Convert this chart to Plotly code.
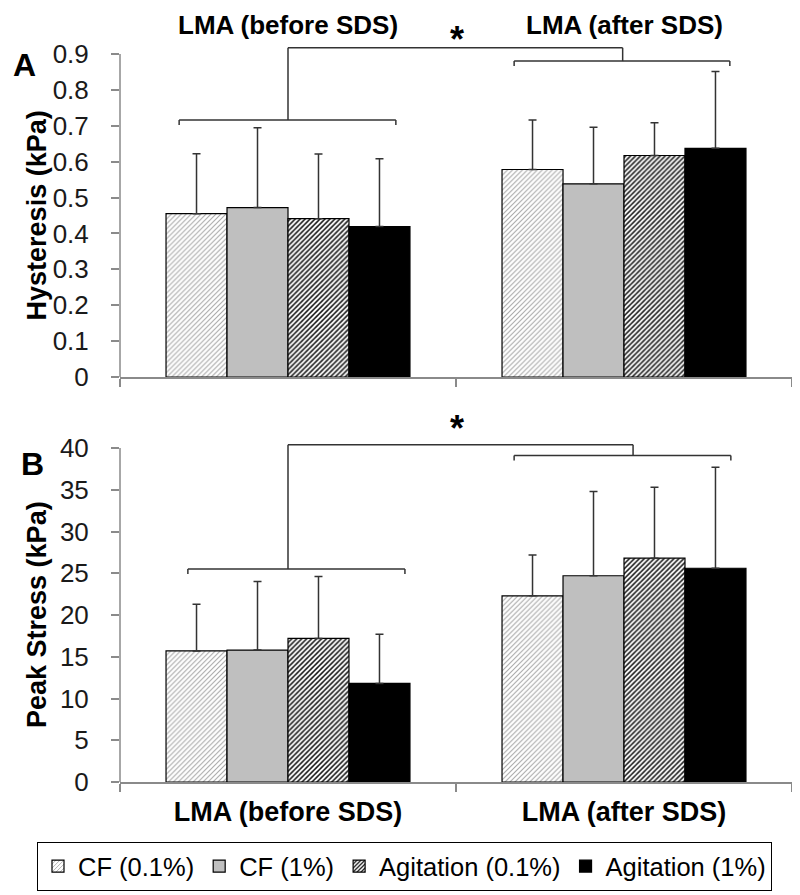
import plotly.graph_objects as go

# ---------------- data ----------------
categories = ["LMA (before SDS)", "LMA (after SDS)"]
series_names = ["CF (0.1%)", "CF (1%)", "Agitation (0.1%)", "Agitation (1%)"]

# Panel A: Hysteresis (kPa)
hyst_mean = [[0.455, 0.578], [0.472, 0.538], [0.441, 0.617], [0.419, 0.637]]
hyst_err = [[0.167, 0.138], [0.222, 0.158], [0.180, 0.091], [0.189, 0.214]]

# Panel B: Peak Stress (kPa)
peak_mean = [[15.7, 22.3], [15.8, 24.7], [17.2, 26.8], [11.8, 25.6]]
peak_err = [[5.6, 4.9], [8.2, 10.1], [7.4, 8.5], [5.9, 12.1]]

hyst_ticks = [0, 0.1, 0.2, 0.3, 0.4, 0.5, 0.6, 0.7, 0.8, 0.9]
peak_ticks = [0, 5, 10, 15, 20, 25, 30, 35, 40]

# significance brackets: (x_left, x_right, y_level, x_stem) per group, and top connector level
hyst_brackets = [(-0.324, 0.321, 0.716, 0.0), (0.673, 1.315, 0.880, 0.996)]
hyst_top = 0.917
peak_brackets = [(-0.298, 0.348, 25.5, 0.0), (0.673, 1.318, 39.1, 1.027)]
peak_top = 40.4

# ---------------- styles ----------------
FONT = "Arial, Liberation Sans, sans-serif"
AXIS_GRAY = "#8a8a8a"
W, H = 792, 887          # page has an 8px body margin
OFF = 8


def px(x):
    return (x - OFF) / W


def py(y):
    return 1 - (y - OFF) / H


styles = [
    dict(color="white", pattern=dict(shape="/", fgcolor="#a8a8a8", bgcolor="white", size=3.5, solidity=0.3)),
    dict(color="#bfbfbf"),
    dict(color="white", pattern=dict(shape="/", fgcolor="#1a1a1a", bgcolor="white", size=3.5, solidity=0.45)),
    dict(color="black"),
]

fig = go.Figure()

for i, name in enumerate(series_names):
    for (means, errs, xa, ya, show) in [
        (hyst_mean, hyst_err, "x", "y", True),
        (peak_mean, peak_err, "x2", "y2", False),
    ]:
        mk = dict(styles[i])
        mk["line"] = dict(color="black", width=1.2)
        fig.add_trace(go.Bar(
            x=categories, y=means[i], name=name, legendgroup=name, showlegend=show,
            xaxis=xa, yaxis=ya, marker=mk,
            error_y=dict(type="data", symmetric=False, array=errs[i],
                         arrayminus=[0] * len(errs[i]), color="#333333",
                         thickness=1.5, width=4),
        ))

A_dom = [py(377), py(18)]
B_dom = [py(782), py(414.6)]
xdom = [px(120), px(792)]

common_x = dict(type="category", range=[-0.5, 1.5], showline=True, linecolor=AXIS_GRAY,
                linewidth=1.5, ticks="outside", tickson="boundaries", ticklen=8,
                tickcolor=AXIS_GRAY, tickwidth=1.5, showgrid=False, zeroline=False)
common_y = dict(showline=False, ticks="outside", ticklen=8, tickcolor=AXIS_GRAY,
                tickwidth=1.5, showgrid=False, zeroline=False, ticklabelstandoff=17,
                tickfont=dict(family=FONT, size=26, color="#1a1a1a"))

fig.update_layout(
    width=W, height=H, template="none",
    paper_bgcolor="white", plot_bgcolor="rgba(0,0,0,0)",
    margin=dict(l=0, r=0, t=0, b=0),
    barmode="group", bargap=0.274, bargroupgap=0,
    xaxis=dict(common_x, domain=xdom, anchor="y", showticklabels=False),
    yaxis=dict(common_y, domain=A_dom, anchor="x", range=[0, 1.0],
               tickvals=hyst_ticks, ticktext=[f"{v:g}" for v in hyst_ticks]),
    xaxis2=dict(common_x, domain=xdom, anchor="y2", showticklabels=True,
                ticklabelstandoff=5,
                tickfont=dict(family=FONT, size=27, color="black", weight="bold")),
    yaxis2=dict(common_y, domain=B_dom, anchor="x2", range=[0, 44],
                tickvals=peak_ticks),
    showlegend=True,
    legend=dict(orientation="h", x=px(37), y=py(842), xanchor="left", yanchor="top",
                bordercolor="black", borderwidth=1, bgcolor="white",
                font=dict(family=FONT, size=25.5, color="black"), itemwidth=30,
                traceorder="normal"),
)

shapes = []
# y-axis lines (only up to the last tick)
shapes.append(dict(type="line", xref="x domain", yref="y", x0=0, x1=0, y0=0, y1=hyst_ticks[-1],
                   line=dict(color=AXIS_GRAY, width=1.5)))
shapes.append(dict(type="line", xref="x2 domain", yref="y2", x0=0, x1=0, y0=0, y1=peak_ticks[-1],
                   line=dict(color=AXIS_GRAY, width=1.5)))


def add_brackets(xr, yr, brackets, top, tip):
    ln = dict(color="#333333", width=1.5)
    for (xl, xrgt, lvl, stem) in brackets:
        shapes.append(dict(type="line", xref=xr, yref=yr, x0=xl, x1=xrgt, y0=lvl, y1=lvl, line=ln))
        shapes.append(dict(type="line", xref=xr, yref=yr, x0=xl, x1=xl, y0=lvl, y1=lvl - tip, line=ln))
        shapes.append(dict(type="line", xref=xr, yref=yr, x0=xrgt, x1=xrgt, y0=lvl, y1=lvl - tip, line=ln))
        shapes.append(dict(type="line", xref=xr, yref=yr, x0=stem, x1=stem, y0=lvl, y1=top, line=ln))
    shapes.append(dict(type="line", xref=xr, yref=yr, x0=brackets[0][3], x1=brackets[1][3],
                       y0=top, y1=top, line=ln))


add_brackets("x", "y", hyst_brackets, hyst_top, 0.014)
add_brackets("x2", "y2", peak_brackets, peak_top, 0.6)
fig.update_layout(shapes=shapes)

ann = []
# top category labels for panel A
for i, c in enumerate(categories):
    ann.append(dict(x=i, xref="x", y=py(8), yref="paper", text=c, showarrow=False,
                    font=dict(family=FONT, size=26, color="black", weight="bold"),
                    xanchor="center", yanchor="top"))
# asterisks
ann.append(dict(x=0.503, xref="x", y=0.941, yref="y", text="*", showarrow=False,
                font=dict(family=FONT, size=36, color="black", weight="bold"),
                xanchor="center", yanchor="middle"))
ann.append(dict(x=0.503, xref="x2", y=42.3, yref="y2", text="*", showarrow=False,
                font=dict(family=FONT, size=36, color="black", weight="bold"),
                xanchor="center", yanchor="middle"))
# y-axis titles
ann.append(dict(x=px(37), xref="paper", y=0.45, yref="y", text="Hysteresis (kPa)",
                textangle=-90, showarrow=False,
                font=dict(family=FONT, size=27, color="black", weight="bold"),
                xanchor="center", yanchor="middle"))
ann.append(dict(x=px(37), xref="paper", y=20, yref="y2", text="Peak Stress (kPa)",
                textangle=-90, showarrow=False,
                font=dict(family=FONT, size=27, color="black", weight="bold"),
                xanchor="center", yanchor="middle"))
# panel letters
ann.append(dict(x=px(24), xref="paper", y=py(65), yref="paper", text="A", showarrow=False,
                font=dict(family=FONT, size=32, color="black", weight="bold"),
                xanchor="center", yanchor="middle"))
ann.append(dict(x=px(32), xref="paper", y=py(464), yref="paper", text="B", showarrow=False,
                font=dict(family=FONT, size=32, color="black", weight="bold"),
                xanchor="center", yanchor="middle"))
fig.update_layout(annotations=ann)

fig.write_html("out.html")
